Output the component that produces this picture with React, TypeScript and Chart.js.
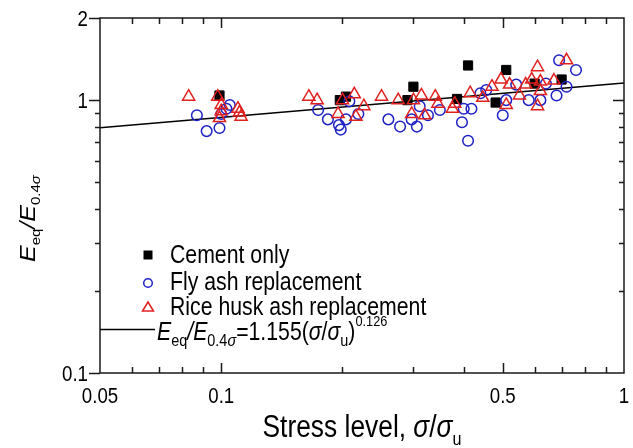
import React, { useEffect, useRef } from "react";
import { Chart, registerables } from "chart.js";

Chart.register(...registerables);

// ---- data (x = stress level σ/σu, y = Eeq/E0.4σ) ----
const cementOnly: [number, number][] = [
  [0.099, 1.04], [0.197, 1.0], [0.204, 1.03], [0.29, 1.0], [0.30, 1.12],
  [0.385, 1.01], [0.41, 1.34], [0.48, 0.98], [0.51, 1.29], [0.60, 1.15], [0.70, 1.19],
];
const flyAsh: [number, number][] = [
  [0.087, 0.88], [0.092, 0.77], [0.099, 0.79], [0.100, 0.89], [0.103, 0.93], [0.105, 0.96],
  [0.174, 0.92], [0.184, 0.85], [0.196, 0.81], [0.198, 0.78], [0.204, 0.85], [0.208, 0.99], [0.219, 0.89],
  [0.26, 0.85], [0.278, 0.80], [0.297, 0.85], [0.306, 0.80], [0.311, 0.95], [0.326, 0.88], [0.349, 0.92],
  [0.396, 0.83], [0.41, 0.71], [0.40, 0.93], [0.418, 0.93], [0.44, 1.06], [0.455, 1.09],
  [0.50, 0.88], [0.51, 1.0], [0.54, 1.14], [0.58, 1.0], [0.62, 1.0], [0.64, 1.15], [0.68, 1.04],
  [0.69, 1.40], [0.72, 1.12], [0.76, 1.29],
];
const riceHusk: [number, number][] = [
  [0.083, 1.03], [0.098, 1.03], [0.100, 0.96], [0.100, 0.91], [0.099, 0.86], [0.110, 0.93], [0.111, 0.90], [0.112, 0.87],
  [0.165, 1.03], [0.173, 1.0], [0.195, 0.89], [0.200, 1.0], [0.214, 1.05], [0.216, 0.87], [0.226, 0.95],
  [0.25, 1.03], [0.275, 1.0], [0.297, 0.89], [0.30, 1.0], [0.314, 1.04], [0.32, 0.88], [0.34, 1.03], [0.345, 0.97],
  [0.375, 0.93], [0.38, 0.97], [0.415, 1.06], [0.446, 1.02], [0.47, 1.12], [0.495, 1.19], [0.51, 0.96],
  [0.52, 1.14], [0.55, 1.04], [0.57, 1.14], [0.59, 1.19], [0.61, 1.32], [0.62, 1.17], [0.62, 1.08], [0.61, 0.95],
  [0.67, 1.18], [0.72, 1.40],
];
const fitCoef = 1.155;
const fitExp = 0.126;

const xRange = [0.05, 1];
const yRange = [0.1, 2];
const xTickValues = [0.05, 0.06, 0.07, 0.08, 0.09, 0.1, 0.2, 0.3, 0.4, 0.5, 0.6, 0.7, 0.8, 0.9, 1];
const xTickLabels = ["0.05", "0.1", "0.5", "1"];
const yTickValues = [0.1, 0.2, 0.3, 0.4, 0.5, 0.6, 0.7, 0.8, 0.9, 1, 2];
const yTickLabels = ["0.1", "1", "2"];
const legendLabels = ["Cement only", "Fly ash replacement", "Rice husk ash replacement"];

const SANS = '"Liberation Sans", Arial, sans-serif';
const SQ = 0.85; // horizontal squeeze of the reference lettering
const BLUE = "#1e22c4";
const RED = "#e0201e";

type Run = { t: string; size: number; italic?: boolean; dy?: number };

function runsWidth(ctx: CanvasRenderingContext2D, runs: Run[]) {
  let w = 0;
  for (const r of runs) {
    ctx.font = `${r.italic ? "italic " : ""}${r.size}px ${SANS}`;
    w += ctx.measureText(r.t).width;
  }
  return w;
}
function drawRuns(ctx: CanvasRenderingContext2D, runs: Run[]) {
  let cx = 0;
  for (const r of runs) {
    ctx.font = `${r.italic ? "italic " : ""}${r.size}px ${SANS}`;
    ctx.fillText(r.t, cx, r.dy || 0);
    cx += ctx.measureText(r.t).width;
  }
}
function narrowText(ctx: CanvasRenderingContext2D, x: number, y: number, runs: Run[], align: "left" | "center" | "right") {
  const w = runsWidth(ctx, runs) * SQ;
  const sx = align === "left" ? x : align === "center" ? x - w / 2 : x - w;
  ctx.save();
  ctx.translate(sx, y);
  ctx.scale(SQ, 1);
  ctx.textAlign = "left";
  drawRuns(ctx, runs);
  ctx.restore();
}

const fmt = (v: number) => String(v);

const decorPlugin = {
  id: "decor",
  afterDraw(chart: any) {
    const ctx: CanvasRenderingContext2D = chart.ctx;
    const a = chart.chartArea;
    const xs = chart.scales.x;
    const ys = chart.scales.y;
    ctx.save();
    ctx.globalAlpha = 1;
    ctx.setLineDash([]);
    ctx.strokeStyle = "#1a1a1a";
    ctx.lineWidth = 1.5;
    ctx.beginPath();
    ctx.rect(a.left, a.top, a.right - a.left, a.bottom - a.top);
    ctx.stroke();
    ctx.beginPath();
    for (const v of xTickValues) {
      const px = Math.round(xs.getPixelForValue(v)) + 0.5;
      if (px < a.left + 2 || px > a.right - 2) continue;
      const len = xTickLabels.includes(fmt(v)) ? 10 : 6;
      ctx.moveTo(px, a.bottom);
      ctx.lineTo(px, a.bottom - len);
      ctx.moveTo(px, a.top);
      ctx.lineTo(px, a.top + len);
    }
    for (const v of yTickValues) {
      const py = Math.round(ys.getPixelForValue(v)) + 0.5;
      const major = yTickLabels.includes(fmt(v));
      const len = major ? 11 : 5;
      ctx.moveTo(a.left - len, py);
      ctx.lineTo(a.left, py);
      if (py > a.top + 2 && py < a.bottom - 2) {
        ctx.moveTo(a.right - len, py);
        ctx.lineTo(a.right, py);
      }
    }
    ctx.stroke();

    ctx.fillStyle = "#000";
    ctx.textBaseline = "alphabetic";
    // tick labels
    xTickValues.forEach((v) => {
      if (!xTickLabels.includes(fmt(v))) return;
      narrowText(ctx, xs.getPixelForValue(v), a.bottom + 30, [{ t: fmt(v), size: 22 }], "center");
    });
    yTickValues.forEach((v) => {
      if (!yTickLabels.includes(fmt(v))) return;
      narrowText(ctx, a.left - 12, ys.getPixelForValue(v) + 8, [{ t: fmt(v), size: 22 }], "right");
    });

    // legend
    const mx = 148;
    const tx = 170;
    const base = [263, 290, 315];
    ctx.fillStyle = "#000";
    ctx.fillRect(mx - 4.5, base[0] - 12.5, 9, 9);
    ctx.strokeStyle = BLUE;
    ctx.lineWidth = 1.5;
    ctx.beginPath();
    ctx.arc(mx, base[1] - 7, 4.3, 0, Math.PI * 2);
    ctx.stroke();
    ctx.strokeStyle = RED;
    ctx.beginPath();
    ctx.moveTo(mx, base[2] - 13);
    ctx.lineTo(mx + 5.5, base[2] - 4);
    ctx.lineTo(mx - 5.5, base[2] - 4);
    ctx.closePath();
    ctx.stroke();
    ctx.fillStyle = "#000";
    legendLabels.forEach((t, i) => narrowText(ctx, tx, base[i], [{ t, size: 25 }], "left"));
    ctx.strokeStyle = "#000";
    ctx.lineWidth = 1.5;
    ctx.beginPath();
    ctx.moveTo(100, 329.5);
    ctx.lineTo(155, 329.5);
    ctx.stroke();
    const fRuns: Run[] = [
      { t: "E", size: 25, italic: true },
      { t: "eq", size: 17, dy: 6 },
      { t: "/", size: 25, italic: true },
      { t: "E", size: 25, italic: true },
      { t: "0.4", size: 17, dy: 6 },
      { t: "σ", size: 17, dy: 6, italic: true },
      { t: "=1.155(", size: 25 },
      { t: "σ", size: 25, italic: true },
      { t: "/", size: 25 },
      { t: "σ", size: 25, italic: true },
      { t: "u", size: 17, dy: 6 },
      { t: ")", size: 25 },
      { t: "0.126", size: 15, dy: -14 },
    ];
    narrowText(ctx, 157, 340, fRuns, "left");

    // x title
    const xRuns: Run[] = [
      { t: "Stress level, ", size: 31 },
      { t: "σ", size: 31, italic: true },
      { t: "/", size: 31 },
      { t: "σ", size: 31, italic: true },
      { t: "u", size: 19, dy: 8 },
    ];
    narrowText(ctx, (a.left + a.right) / 2, 437, xRuns, "center");

    // y title (rotated)
    const yRuns: Run[] = [
      { t: "E", size: 25, italic: true },
      { t: "eq", size: 15, dy: 6 },
      { t: "/", size: 25, italic: true },
      { t: "E", size: 25, italic: true },
      { t: "0.4", size: 15, dy: 6 },
      { t: "σ", size: 15, dy: 6, italic: true },
    ];
    ctx.save();
    ctx.translate(35, 262);
    ctx.scale(SQ, 1);
    ctx.rotate(-Math.PI / 2);
    drawRuns(ctx, yRuns);
    ctx.restore();
    ctx.restore();
  },
};

export default function App() {
  const ref = useRef<HTMLCanvasElement | null>(null);
  useEffect(() => {
    if (!ref.current) return;
    const fitData = xRange.map((x) => ({ x, y: fitCoef * Math.pow(x, fitExp) }));
    const chart = new Chart(ref.current, {
      type: "scatter",
      data: {
        datasets: [
          {
            type: "line",
            label: "fit",
            data: fitData,
            borderColor: "#000",
            borderWidth: 1.5,
            pointRadius: 0,
            order: 4,
          } as any,
          {
            label: legendLabels[0],
            data: cementOnly.map(([x, y]) => ({ x, y })),
            pointStyle: "rect",
            pointRadius: 6.5,
            backgroundColor: "#000",
            borderColor: "#000",
            borderWidth: 1,
            order: 3,
          },
          {
            label: legendLabels[1],
            data: flyAsh.map(([x, y]) => ({ x, y })),
            pointStyle: "circle",
            pointRadius: 5.3,
            backgroundColor: "rgba(0,0,0,0)",
            borderColor: BLUE,
            borderWidth: 1.5,
            order: 2,
          },
          {
            label: legendLabels[2],
            data: riceHusk.map(([x, y]) => ({ x, y })),
            pointStyle: "triangle",
            pointRadius: 7,
            backgroundColor: "rgba(0,0,0,0)",
            borderColor: RED,
            borderWidth: 1.5,
            order: 1,
          },
        ],
      },
      options: {
        responsive: false,
        animation: false,
        events: [],
        layout: { padding: { top: 18, right: 9, left: 0, bottom: 0 } },
        plugins: { legend: { display: false }, tooltip: { enabled: false }, title: { display: false } },
        scales: {
          x: {
            type: "logarithmic",
            min: xRange[0],
            max: xRange[1],
            afterBuildTicks: (s: any) => {
              s.ticks = xTickValues.map((v) => ({ value: v }));
            },
            afterFit: (s: any) => {
              s.height = 75;
            },
            grid: { display: false, drawTicks: false },
            border: { display: false },
            ticks: { display: false },
          },
          y: {
            type: "logarithmic",
            min: yRange[0],
            max: yRange[1],
            afterBuildTicks: (s: any) => {
              s.ticks = yTickValues.map((v) => ({ value: v }));
            },
            afterFit: (s: any) => {
              s.width = 100;
            },
            grid: { display: false, drawTicks: false },
            border: { display: false },
            ticks: { display: false },
          },
        },
      } as any,
      plugins: [decorPlugin],
    });
    return () => chart.destroy();
  }, []);
  return (
    <div style={{ position: "absolute", left: 0, top: 0, width: 633, height: 448, background: "#fff" }}>
      <canvas ref={ref} width={633} height={448} style={{ display: "block" }} />
    </div>
  );
}
